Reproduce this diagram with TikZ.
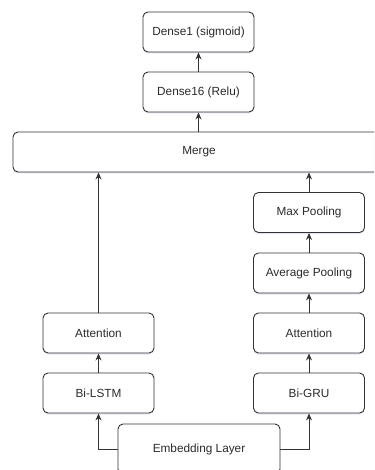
\documentclass[tikz,border=0pt]{standalone}
\usepackage{fontspec}
\setmainfont{Liberation Sans}
\usetikzlibrary{arrows.meta,shadows}
\definecolor{lc}{HTML}{333333}
\definecolor{tc}{HTML}{2B2B2B}
\tikzset{
  box/.style={draw=lc, line width=0.9pt, rounded corners=5pt, fill=white,
    minimum height=40pt, minimum width=111pt, inner sep=0pt,
    font=\fontsize{11.8}{14}\selectfont, text=tc,
    drop shadow={opacity=0.15, shadow xshift=0pt, shadow yshift=-1.5pt, fill=blue!30!gray}},
  conn/.style={draw=lc, line width=0.9pt, -{Stealth[length=7pt,width=6pt]}}
}
\begin{document}
\begin{tikzpicture}[x=1pt,y=-1pt]
\useasboundingbox (0,0) rectangle (374,470);
\clip (0,0) rectangle (374,470);
\fill[white] (0,0) rectangle (374,470);
\node[box] (d1) at (198.5,32) {Dense1 (sigmoid)};
\node[box] (d16) at (198.5,92) {Dense16 (Relu)};
\node[box, minimum width=372pt] (merge) at (199,152) {Merge};
\node[box] (maxp) at (309,212.5) {Max Pooling};
\node[box] (avgp) at (309,273) {Average Pooling};
\node[box] (attr) at (309,333) {Attention};
\node[box] (bigru) at (309,393) {Bi-GRU};
\node[box] (attl) at (98.5,333) {Attention};
\node[box] (bilstm) at (98.5,393) {Bi-LSTM};
\node[box, minimum width=162pt, minimum height=50pt] (emb) at (199,449) {Embedding Layer};
\draw[conn] (d16) -- (d1);
\draw[conn] (merge.north -| d16) -- (d16);
\draw[conn] (maxp) -- (maxp |- merge.south);
\draw[conn] (avgp) -- (maxp);
\draw[conn] (attr) -- (avgp);
\draw[conn] (bigru) -- (attr);
\draw[conn] (attl) -- (attl |- merge.south);
\draw[conn] (bilstm) -- (attl);
\draw[conn] (emb.west) -| (bilstm.south);
\draw[conn] (emb.east) -| (bigru.south);
\end{tikzpicture}
\end{document}
